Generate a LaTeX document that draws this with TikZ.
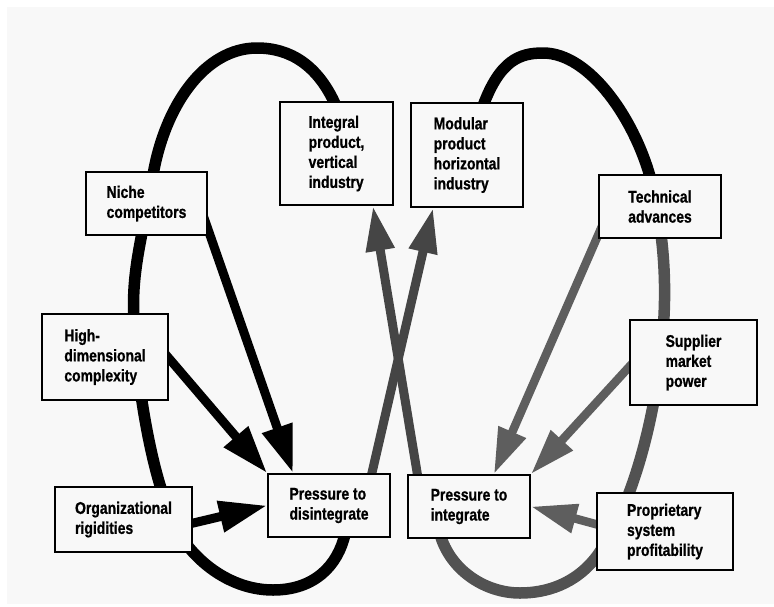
\documentclass[tikz,border=0pt]{standalone}
\usepackage{fontspec}
\setmainfont[FakeStretch=0.82, BoldFeatures={FakeBold=0.8}]{Liberation Sans}
\usetikzlibrary{arrows.meta}
\definecolor{bgc}{HTML}{F8F8F8}
\definecolor{xgray}{HTML}{454545}
\definecolor{rgray}{HTML}{5E5E5E}
\definecolor{lgray}{HTML}{525252}
\pgfdeclarelayer{back}
\pgfdeclarelayer{bg}
\pgfsetlayers{back,bg,main}
\begin{document}
\begin{tikzpicture}[x=1pt,y=-1pt,
  box/.style={draw=black, line width=1.8pt, fill=bgc, inner sep=0pt, align=left,
    font=\fontsize{17}{20}\selectfont\bfseries},
  loopline/.style={line width=11.5pt, line cap=butt},
  blkarrow/.style={draw=black, line width=9pt, -{Triangle[length=48pt,width=30pt]}},
  xarrow/.style={draw=xgray, line width=9pt, -{Triangle[length=45pt,width=27pt]}},
  garrow/.style={draw=rgray, line width=8.5pt, -{Triangle[length=46pt,width=28pt]}},
]
\useasboundingbox (0,0) rectangle (774,606);
\begin{pgfonlayer}{back}
\fill[white] (0,0) rectangle (774,606);
\fill[bgc] (7,7) rectangle (774,604);
\end{pgfonlayer}

% boxes
\node[box, minimum width=121pt, minimum height=63pt] (niche) at (146.5,203.5) {Niche\\competitors};
\node[box, minimum width=113pt, minimum height=103pt] (integral) at (336.5,153.5) {Integral\\product,\\vertical\\industry};
\node[box, minimum width=112pt, minimum height=104pt] (modular) at (467,155) {Modular\\product\\horizontal\\industry};
\node[box, minimum width=122pt, minimum height=63pt] (tech) at (660,206.5) {Technical\\advances};
\node[box, minimum width=126pt, minimum height=86pt] (highdim) at (105,357) {High-\\dimensional\\complexity};
\node[box, minimum width=137pt, minimum height=65pt] (org) at (123.5,519.5) {Organizational\\rigidities};
\node[box, minimum width=122pt, minimum height=63pt] (pdis) at (329,505.5) {Pressure to\\disintegrate};
\node[box, minimum width=122pt, minimum height=63pt] (pint) at (469,506.5) {Pressure to\\integrate};
\node[box, minimum width=127pt, minimum height=85pt] (supplier) at (693.5,362.5) {Supplier\\market\\power};
\node[box, minimum width=136pt, minimum height=77pt] (prop) at (665,531.5) {Proprietary\\system\\profitability};

\begin{pgfonlayer}{bg}
% left loop (black)
\draw[loopline, black] (336,106) .. controls (318,65) and (290,48) .. (257,48)
  .. controls (205,48) and (165,105) .. (153,175)
  .. controls (143,235) and (131,270) .. (134,320)
  .. controls (136,380) and (150,460) .. (165,500)
  .. controls (175,545) and (220,590) .. (273,590)
  .. controls (315,590) and (338,565) .. (345,534);
% right loop, upper part (black)
\draw[loopline, black] (483,106) .. controls (500,60) and (520,53) .. (543,53)
  .. controls (590,53) and (635,120) .. (651,180);
% right loop, lower part (gray)
\draw[loopline, lgray] (655,200) .. controls (665,245) and (668,300) .. (660,360)
  .. controls (652,430) and (630,510) .. (597,556)
  .. controls (575,585) and (545,593) .. (520,593)
  .. controls (485,593) and (450,570) .. (440,534);

% arrows into Pressure to disintegrate
\draw[blkarrow] (203,215) -- ([xshift=-36pt]pdis.north);
\draw[blkarrow] (155,342) -- (pdis.north west);
\draw[blkarrow] (185,525) -- (pdis.west);
% crossing arrows
\draw[xarrow] (368,490) -- ([xshift=23pt]modular.south west);
\draw[xarrow] (420,490) -- ([xshift=-21pt]integral.south east);
% arrows into Pressure to integrate
\draw[garrow] (606,217) -- ([xshift=-37pt]pint.north east);
\draw[garrow] (640,355) -- (pint.north east);
\draw[garrow] (610,528) -- (pint.east);
\end{pgfonlayer}
\end{tikzpicture}
\end{document}
